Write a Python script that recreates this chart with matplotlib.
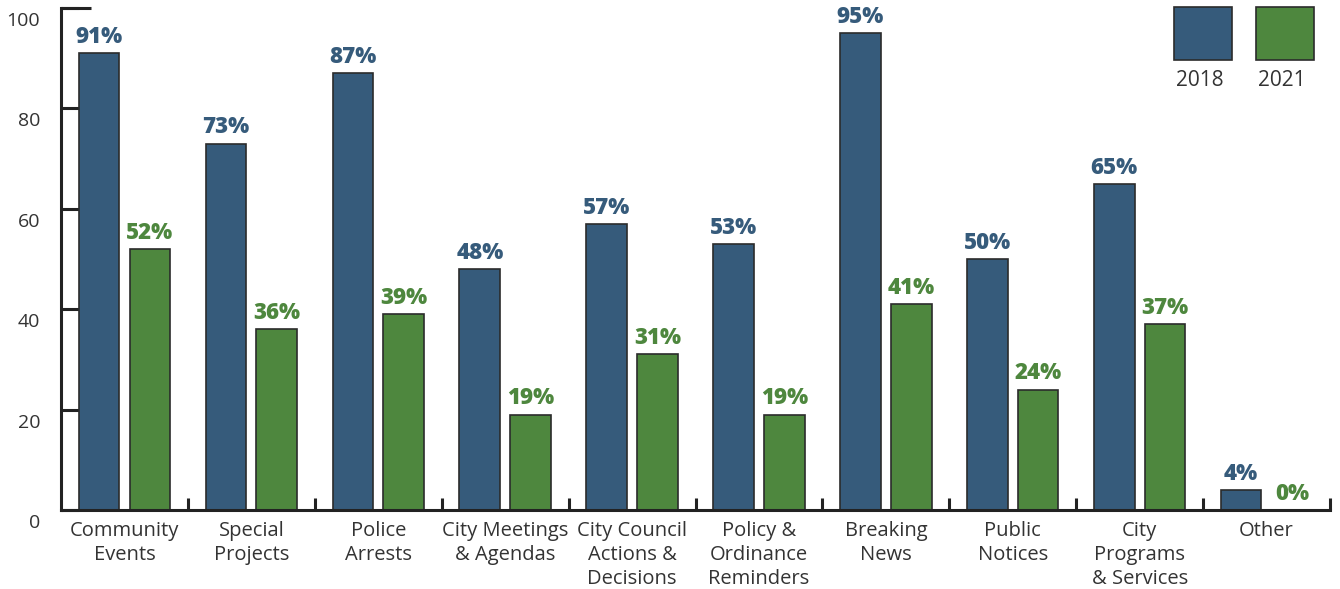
import matplotlib
matplotlib.use('agg')
import matplotlib.pyplot as plt
import matplotlib.transforms as mtransforms
from matplotlib.patches import Rectangle
import numpy as np

categories = ['Community\nEvents', 'Special\nProjects', 'Police\nArrests', 'City Meetings\n& Agendas',
              'City Council\nActions &\nDecisions', 'Policy &\nOrdinance\nReminders', 'Breaking\nNews',
              'Public\nNotices', 'City\nPrograms\n& Services', 'Other']
values_2018 = [91, 73, 87, 48, 57, 53, 95, 50, 65, 4]
values_2021 = [52, 36, 39, 19, 31, 19, 41, 24, 37, 0]
years = ['2018', '2021']
y_ticks = [0, 20, 40, 60, 80, 100]

blue = '#365b7b'
green = '#4e873e'
edge = '#2b2b2b'
text_grey = '#333333'

plt.rcParams['font.family'] = ['Open Sans', 'DejaVu Sans']

fig = plt.figure(figsize=(13.4, 5.89), dpi=100)
ax = fig.add_axes([61 / 1340, 1 - 510 / 589, (1330 - 61) / 1340, 502 / 589])

x = np.arange(len(categories))
w = 0.32
off = 0.2
ax.bar(x - off, values_2018, w, color=blue, edgecolor=edge, linewidth=1.2, zorder=2)
ax.bar(x + off, values_2021, w, color=green, edgecolor=edge, linewidth=1.2, zorder=2)

# value labels above bars
for xi, v in zip(x, values_2018):
    ax.annotate(f'{v}%', (xi - off, v), xytext=(0, 3), textcoords='offset points',
                ha='center', va='bottom', color=blue, fontsize=16, fontweight=800)
for xi, v in zip(x, values_2021):
    ax.annotate(f'{v}%', (xi + off, v), xytext=(0, 3), textcoords='offset points',
                ha='center', va='bottom', color=green, fontsize=16, fontweight=800)

ax.set_xlim(-0.5, len(categories) - 0.5)
ax.set_ylim(0, 100)

for s in ['top', 'right']:
    ax.spines[s].set_visible(False)
for s in ['left', 'bottom']:
    ax.spines[s].set_linewidth(2.2)
    ax.spines[s].set_color('#222222')

# y axis: inward ticks, labels shifted down
ax.set_yticks(y_ticks)
ax.set_yticklabels([str(t) for t in y_ticks])
ax.tick_params(axis='y', direction='in', length=13, width=2.2, color='#222222',
               pad=15, labelsize=14, labelcolor=text_grey)
shift = mtransforms.ScaledTranslation(0, -11 / 100, fig.dpi_scale_trans)
for lab in ax.get_yticklabels():
    lab.set_transform(lab.get_transform() + shift)
ax.plot([-0.5, -0.265], [100, 100], color='#222222', lw=2.2, clip_on=False, solid_capstyle='butt')

# x axis: inward ticks at group boundaries, labels at centres
ax.set_xticks(x + 0.5)
ax.set_xticklabels([])
ax.tick_params(axis='x', which='major', direction='in', length=8.5, width=2.2, color='#222222')
ax.set_xticks(x, minor=True)
ax.set_xticklabels(categories, minor=True, fontsize=14.5, color=text_grey, linespacing=1.25)
ax.tick_params(axis='x', which='minor', length=0, pad=8)

# legend squares with labels below
for i, (yr, col) in enumerate(zip(years, [blue, green])):
    x0 = (1174 + i * 82 - 61) / 1269
    ax.add_patch(Rectangle((x0, 1 - 52 / 502), 58 / 1269, 53 / 502, transform=ax.transAxes,
                           facecolor=col, edgecolor=edge, linewidth=1.2, clip_on=False))
    ax.text(x0 + 26 / 1269, 1 - 73 / 502, yr, transform=ax.transAxes, ha='center', va='center',
            fontsize=15, color=text_grey)

fig.savefig('out.png', dpi=100)
